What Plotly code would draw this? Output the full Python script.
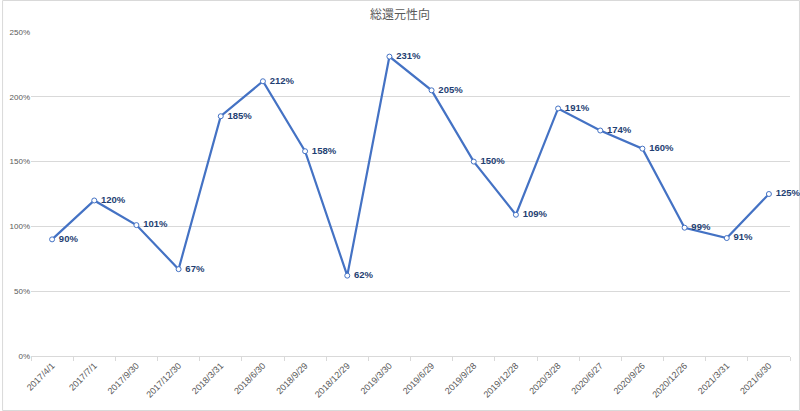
import plotly.graph_objects as go

dates = ["2017/4/1", "2017/7/1", "2017/9/30", "2017/12/30", "2018/3/31", "2018/6/30",
         "2018/9/29", "2018/12/29", "2019/3/30", "2019/6/29", "2019/9/28", "2019/12/28",
         "2020/3/28", "2020/6/27", "2020/9/26", "2020/12/26", "2021/3/31", "2021/6/30"]
ratio_pct = [90, 120, 101, 67, 185, 212, 158, 62, 231, 205, 150, 109, 191, 174, 160, 99, 91, 125]
values = [v / 100 for v in ratio_pct]
labels = [f" {v}%" for v in ratio_pct]

L, R, T, B = 29, 10, 32, 55
W, H = 800, 411
pw, ph = W - L - R, H - T - B

fig = go.Figure(go.Scatter(
    x=dates, y=values, mode="lines+markers+text",
    line=dict(color="#4472C4", width=2.2),
    marker=dict(symbol="circle", size=5, color="white", line=dict(color="#4472C4", width=1)),
    text=labels, textposition="middle right",
    textfont=dict(family="Liberation Sans, Arial", size=9.5, color="#1F3F73", weight="bold"),
    cliponaxis=False,
))

fig.update_layout(
    width=W, height=H,
    margin=dict(l=L, r=R, t=T, b=B),
    paper_bgcolor="white", plot_bgcolor="white",
    showlegend=False,
    title=dict(text="総還元性向", x=0.5, xanchor="center", y=1 - 15 / H, yanchor="middle",
               font=dict(family="Noto Sans CJK JP", size=12, color="#595959")),
    font=dict(family="Liberation Sans, Arial", color="#595959"),
    shapes=[dict(type="rect", xref="paper", yref="paper",
                 x0=-(L - 0.5) / pw, x1=(W - L - 0.5) / pw,
                 y0=-(B - 0.5) / ph, y1=(H - B - 0.5) / ph,
                 line=dict(color="#D9D9D9", width=1), layer="below")],
)
fig.update_xaxes(type="category", range=[-0.5, len(dates) - 0.5], tickangle=-45,
                 tickfont=dict(size=9, color="#595959"),
                 showgrid=False, showline=True, linecolor="#D9D9D9", linewidth=1,
                 ticks="outside", tickson="boundaries", ticklen=4, tickcolor="#D9D9D9",
                 zeroline=False)
fig.update_yaxes(range=[0, 2.5], dtick=0.5, tickformat=".0%", tickfont=dict(size=8, color="#595959"),
                 showgrid=True, gridcolor="#D9D9D9", gridwidth=1, zeroline=False, showline=False,
                 ticks="", ticklen=0)

fig.write_html("out.html")
